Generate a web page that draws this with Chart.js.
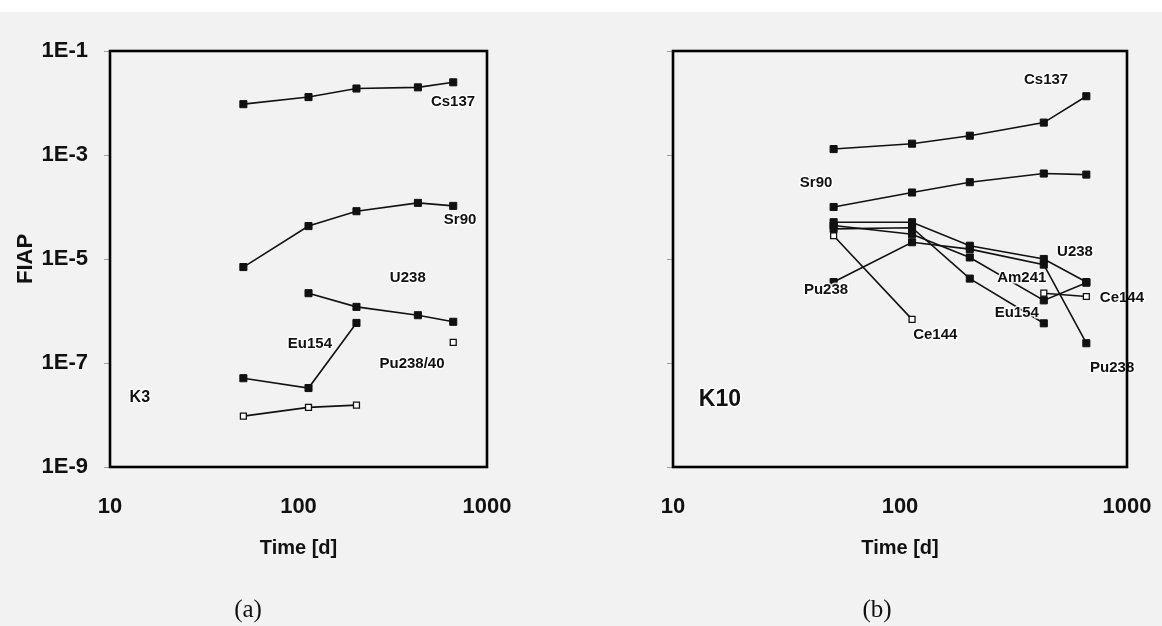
<!DOCTYPE html>
<html lang="en">
<head>
<meta charset="UTF-8" />
<title>FIAP vs time - K3 and K10</title>
<script src="https://cdn.jsdelivr.net/npm/chart.js@4.4.3/dist/chart.umd.min.js"></script>
<style>
  body {
    margin: 0;
    width: 1162px;
    height: 626px;
    background: #f2f2f2;
    position: relative;
    overflow: hidden;
    font-family: 'Liberation Sans', Arial, sans-serif;
  }
  .topband { position: absolute; left: 0; top: 0; width: 1162px; height: 12px; background: #fff; }
  .panel { position: absolute; top: 0; }
  #boxA { left: 0; }
  #boxB { left: 560px; }
  .caption {
    position: absolute;
    top: 595px;
    width: 80px;
    text-align: center;
    font-family: 'Liberation Serif', 'Times New Roman', serif;
    font-size: 25px;
    color: #111;
  }
</style>
</head>
<body>
  <div class="topband"></div>
  <div class="panel" id="boxA"><canvas id="chartA" width="560" height="626"></canvas></div>
  <div class="panel" id="boxB"><canvas id="chartB" width="602" height="626"></canvas></div>
  <div class="caption" style="left:208px">(a)</div>
  <div class="caption" style="left:837px">(b)</div>

<script>
  // sampling times (days)
  const days = [51, 113, 203, 430, 662];

  // axis ticks
  const xTicks = [10, 100, 1000];
  const xTickLabels = ['10', '100', '1000'];
  const yTicks = [1e-9, 1e-7, 1e-5, 1e-3, 1e-1];
  const yTickLabels = ['1E-9', '1E-7', '1E-5', '1E-3', '1E-1'];

  // (a) K3
  const csA = [9.5e-3, 1.3e-2, 1.9e-2, 2.0e-2, 2.5e-2];
  const srA = [7.0e-6, 4.3e-5, 8.3e-5, 1.2e-4, 1.05e-4];
  const uA  = [null, 2.2e-6, 1.2e-6, 8.3e-7, 6.2e-7];
  const euA = [5.1e-8, 3.3e-8, 5.9e-7, null, null];
  const puA = [9.5e-9, 1.4e-8, 1.55e-8, null, 2.5e-7];   // Pu238/40, open

  // (b) K10
  const csB = [1.3e-3, 1.65e-3, 2.35e-3, 4.2e-3, 1.35e-2];
  const srB = [1.0e-4, 1.9e-4, 3.0e-4, 4.4e-4, 4.2e-4];
  const uB  = [5.1e-5, 5.1e-5, 1.8e-5, 1.0e-5, 3.6e-6];
  const amB = [4.4e-5, 3.0e-5, 1.07e-5, 1.6e-6, 3.5e-6];
  const euB = [3.8e-5, 4.0e-5, 4.2e-6, 5.8e-7, null];
  const puB = [3.6e-6, 2.1e-5, 1.55e-5, 7.8e-6, 2.4e-7];
  const ceB = [2.8e-5, 6.9e-7, null, 2.2e-6, 1.9e-6];    // open

  // curve names, anchored at [time, FIAP]
  const notesA = [
    ['Cs137', 660, 1.05e-2],
    ['Sr90', 720, 5.6e-5],
    ['U238', 380, 4.3e-6],
    ['Eu154', 115, 2.3e-7],
    ['Pu238/40', 400, 9.5e-8]
  ];
  const notesB = [
    ['Cs137', 440, 2.8e-2],
    ['Sr90', 42.7, 2.9e-4],
    ['U238', 590, 1.37e-5],
    ['Am241', 344, 4.3e-6],
    ['Pu238', 47.2, 2.5e-6],
    ['Eu154', 327, 9.1e-7],
    ['Ce144', 950, 1.8e-6],
    ['Ce144', 143, 3.5e-7],
    ['Pu238', 860, 7.9e-8]
  ];
  const tagA = ['K3', 14.4, 2.2e-8];
  const tagB = ['K10', 16.1, 1.95e-8];

  Chart.defaults.font.family = "'Liberation Sans', Arial, sans-serif";

  function series(vals, open) {
    return {
      data: days.map((d, i) => ({ x: d, y: vals[i] })),
      borderColor: '#111',
      borderWidth: 1.6,
      pointStyle: 'rect',
      pointRadius: open ? 4.2 : 5,
      pointBackgroundColor: open ? '#fff' : '#111',
      pointBorderColor: '#111',
      pointBorderWidth: open ? 1.3 : 1,
      spanGaps: false,
      tension: 0
    };
  }

  const framePlugin = {
    id: 'frame',
    afterDraw(chart) {
      const { ctx, chartArea: a } = chart;
      ctx.save();
      ctx.strokeStyle = '#000';
      ctx.lineWidth = 2.6;
      ctx.strokeRect(a.left, a.top, a.width, a.height);
      ctx.restore();
    }
  };

  const notesPlugin = {
    id: 'notes',
    afterDatasetsDraw(chart, args, opts) {
      const { ctx, scales: { x, y } } = chart;
      ctx.save();
      ctx.textAlign = 'center';
      ctx.textBaseline = 'middle';
      ctx.lineJoin = 'round';
      const put = (n, font) => {
        const px = x.getPixelForValue(n[1]), py = y.getPixelForValue(n[2]);
        ctx.font = font;
        ctx.strokeStyle = 'rgba(255,255,255,0.85)';
        ctx.lineWidth = 3;
        ctx.strokeText(n[0], px, py);
        ctx.fillStyle = '#111';
        ctx.fillText(n[0], px, py);
      };
      opts.items.forEach(n => put(n, "bold 15px 'Liberation Sans', Arial, sans-serif"));
      put(opts.tag, "bold " + opts.tagSize + "px 'Liberation Sans', Arial, sans-serif");
      ctx.restore();
    }
  };

  function makeChart(id, datasets, axisW, rightPad, showY, items, tag, tagSize) {
    return new Chart(document.getElementById(id), {
      type: 'line',
      data: { datasets },
      options: {
        responsive: false,
        animation: false,
        layout: { padding: { top: 51, right: rightPad, left: 0, bottom: 0 } },
        plugins: {
          legend: { display: false },
          tooltip: { enabled: false },
          notes: { items, tag, tagSize }
        },
        scales: {
          x: {
            type: 'logarithmic',
            min: 10,
            max: 1000,
            afterBuildTicks: s => { s.ticks = xTicks.map(v => ({ value: v })); },
            afterFit: s => { s.height = 159; },
            // invisible tick marks only push the labels down
            grid: { display: false, drawTicks: true, tickLength: 24 },
            border: { display: false },
            ticks: {
              color: '#111',
              font: { size: 22, weight: 'bold' },
              padding: 3,
              maxRotation: 0,
              autoSkip: false,
              callback: (v, i) => xTickLabels[i]
            },
            title: {
              display: true,
              text: 'Time [d]',
              color: '#111',
              font: { size: 20, weight: 'bold' },
              padding: { top: 0, bottom: 66 }
            }
          },
          y: {
            type: 'logarithmic',
            min: 1e-9,
            max: 1e-1,
            afterBuildTicks: s => { s.ticks = yTicks.map(v => ({ value: v })); },
            afterFit: s => { s.width = axisW; },
            grid: { drawOnChartArea: false, drawTicks: true, tickLength: 6, color: '#a0a0a0' },
            border: { display: false },
            ticks: {
              display: showY,
              color: '#111',
              font: { size: 22, weight: 'bold' },
              padding: 16,
              callback: (v, i) => yTickLabels[i]
            },
            title: {
              display: showY,
              text: 'FIAP',
              color: '#111',
              font: { size: 22, weight: 'bold' },
              padding: { top: 13, bottom: 0 }
            }
          }
        }
      },
      plugins: [notesPlugin, framePlugin]
    });
  }

  makeChart('chartA', [
    series(csA), series(srA), series(uA), series(euA), series(puA, true)
  ], 110, 73, true, notesA, tagA, 16);

  makeChart('chartB', [
    series(csB), series(srB), series(uB), series(amB), series(euB), series(puB), series(ceB, true)
  ], 113, 35, false, notesB, tagB, 23);
</script>
</body>
</html>
